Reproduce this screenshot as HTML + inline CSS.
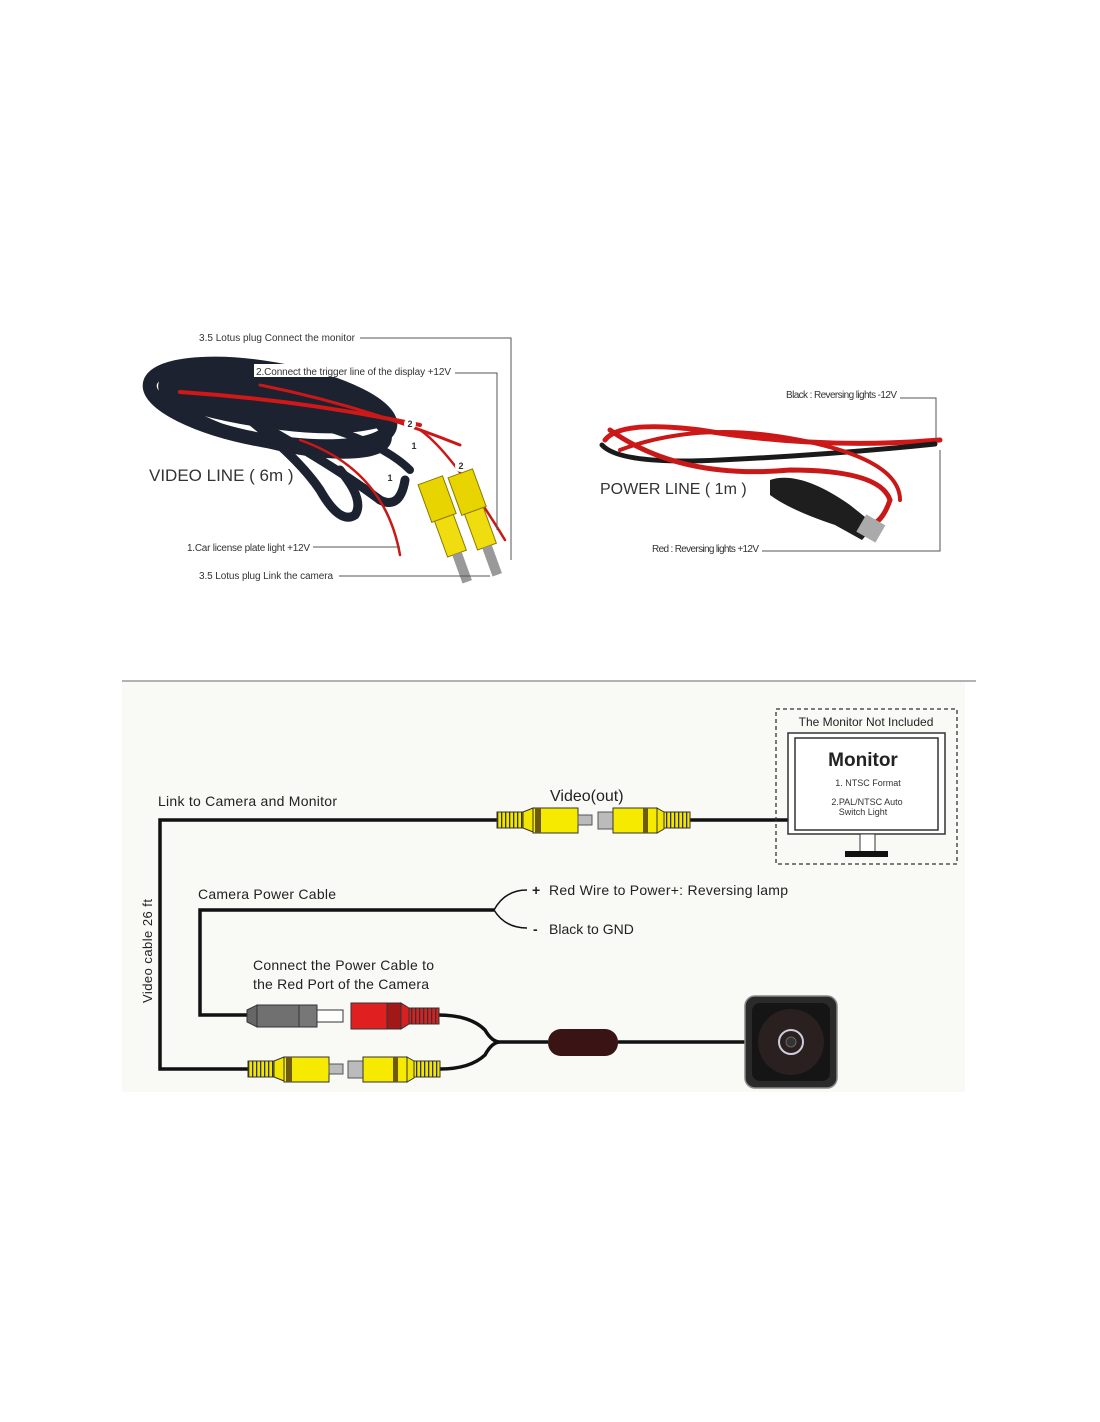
<!DOCTYPE html>
<html><head><meta charset="utf-8"><style>
body{margin:0;background:#fff;}
svg{display:block;font-family:"Liberation Sans",sans-serif;}
</style></head><body>
<svg width="1100" height="1422" viewBox="0 0 1100 1422" xmlns="http://www.w3.org/2000/svg">
<defs>
<pattern id="rib" width="4" height="4" patternUnits="userSpaceOnUse"><rect width="4" height="4" fill="#f2e600"/><rect width="1.3" height="4" fill="#333"/></pattern>
<pattern id="ribr" width="4" height="4" patternUnits="userSpaceOnUse"><rect width="4" height="4" fill="#d82020"/><rect width="1.3" height="4" fill="#333"/></pattern>
<g id="maleY">
<rect x="0" y="-8" width="26" height="16" fill="url(#rib)" stroke="#333" stroke-width="1"/>
<polygon points="26,-8 36,-12 36,12 26,8" fill="#f2e600" stroke="#333"/>
<rect x="36" y="-12" width="45" height="25" fill="#f5ea00" stroke="#333"/>
<rect x="38" y="-12" width="6" height="25" fill="#6b5a10"/>
<rect x="81" y="-5" width="14" height="10" fill="#bbb" stroke="#555"/>
</g>
<g id="femY">
<rect x="0" y="-8" width="15" height="17" fill="#bbb" stroke="#555"/>
<rect x="15" y="-12" width="44" height="25" fill="#f5ea00" stroke="#333"/>
<rect x="45" y="-12" width="5" height="25" fill="#6b5a10"/>
<polygon points="59,-12 66,-8 66,9 59,13" fill="#f2e600" stroke="#333"/>
<rect x="66" y="-8" width="26" height="16" fill="url(#rib)" stroke="#333"/>
</g>
</defs>

<!-- ===== Top left: video line photo ===== -->
<g fill="none" stroke-linecap="round" stroke="#1d2230">
<ellipse cx="270" cy="405" rx="122" ry="36" stroke-width="14" transform="rotate(10 270 405)"/>
<ellipse cx="275" cy="412" rx="115" ry="32" stroke-width="10" transform="rotate(14 275 412)"/>
<path d="M250 420 Q300 460 320 490 Q340 525 355 515 Q365 500 340 470" stroke-width="9"/>
<path d="M270 430 Q340 470 380 500 Q400 510 405 480" stroke-width="9"/>
<path d="M300 420 Q380 440 410 470" stroke-width="8"/>
</g>
<path d="M160 380 Q200 360 260 372 Q340 385 400 420 Q360 440 280 430 Q200 420 160 400Z" fill="#1d2230"/>
<g fill="none" stroke-linecap="round">
<path d="M180 392 Q300 400 420 425" stroke="#d01818" stroke-width="4"/>
<path d="M260 385 Q360 405 460 445" stroke="#c81818" stroke-width="3"/>
<path d="M300 440 Q385 470 400 555" stroke="#c81818" stroke-width="2.5"/>
<path d="M420 430 Q450 450 505 540" stroke="#c81818" stroke-width="2.5"/>
</g>
<g transform="translate(432,485) rotate(70)"><rect x="-5" y="-13" width="40" height="26" fill="#e8d400" stroke="#8a7a00"/><rect x="35" y="-10" width="38" height="20" fill="#f0dd10" stroke="#8a7a00"/><rect x="73" y="-5" width="30" height="10" fill="#999"/></g>
<g transform="translate(462,478) rotate(70)"><rect x="-5" y="-13" width="40" height="26" fill="#e8d400" stroke="#8a7a00"/><rect x="35" y="-10" width="38" height="20" fill="#f0dd10" stroke="#8a7a00"/><rect x="73" y="-5" width="30" height="10" fill="#999"/></g>
<g font-size="9" text-anchor="middle" font-weight="bold" fill="#333">
<circle cx="410" cy="424" r="6" fill="#fff"/><text x="410" y="427">2</text>
<circle cx="414" cy="446" r="6" fill="#fff"/><text x="414" y="449">1</text>
<circle cx="461" cy="466" r="6" fill="#fff"/><text x="461" y="469">2</text>
<circle cx="390" cy="478" r="6" fill="#fff"/><text x="390" y="481">1</text>
</g>
<g stroke="#555" stroke-width="1" fill="none">
<path d="M360 338 H511 V560"/>
<path d="M455 373 H497 V530"/>
<path d="M313 547 H400"/>
<path d="M339 576 H490"/>
</g>
<g font-size="10" fill="#333">
<text x="199" y="341" textLength="156">3.5 Lotus plug  Connect the monitor</text>
<rect x="254" y="364" width="200" height="13" fill="#fff"/>
<text x="256" y="375" textLength="195">2.Connect the trigger line of the display +12V</text>
<text x="187" y="551" textLength="123">1.Car license plate light +12V</text>
<text x="199" y="579" textLength="134">3.5 Lotus plug  Link the camera</text>
</g>
<text x="149" y="481" font-size="17" fill="#333">VIDEO  LINE   ( 6m )</text>

<!-- ===== Top right: power line ===== -->
<g fill="none" stroke-linecap="round">
<path d="M605 440 Q620 420 700 430 Q820 450 940 440" stroke="#d01818" stroke-width="5"/>
<path d="M602 445 Q620 465 720 460 Q830 455 935 444" stroke="#1a1a1a" stroke-width="5"/>
<path d="M610 430 Q680 480 790 470 Q880 470 890 500 Q880 530 860 525" stroke="#c81818" stroke-width="5"/>
<path d="M620 450 Q700 420 800 440 Q900 460 900 500" stroke="#c81818" stroke-width="4"/>
</g>
<path d="M770 480 Q800 470 850 505 L875 525 L862 540 L835 525 Q790 510 770 495Z" fill="#1e1e1e"/>
<rect x="860" y="518" width="22" height="20" fill="#aaa" transform="rotate(30 870 528)"/>
<g stroke="#555" stroke-width="1" fill="none">
<path d="M900 398 H936 V440"/>
<path d="M762 551 H940 V450"/>
</g>
<g font-size="10" fill="#333">
<text x="786" y="398" textLength="111">Black : Reversing lights -12V</text>
<text x="652" y="552" textLength="107">Red : Reversing lights +12V</text>
</g>
<text x="600" y="494" font-size="16" fill="#333">POWER  LINE   ( 1m )</text>

<!-- ===== Bottom diagram ===== -->
<rect x="122" y="682" width="843" height="410" fill="#f9f9f6"/>
<line x1="122" y1="681" x2="976" y2="681" stroke="#999" stroke-width="1.5"/>

<g fill="none" stroke="#111" stroke-width="3.5">
<path d="M497 820 H160 V1069 H248"/>
<path d="M690 820 H790"/>
<path d="M494 910 H200 V1015 H247"/>
<path d="M494 910 Q505 890 527 890 M494 910 Q505 928 527 928" stroke-width="1.5"/>
<path d="M438 1015 Q470 1015 485 1030 Q492 1042 500 1042 M440 1069 Q470 1069 485 1055 Q492 1042 500 1042 H548 M618 1042 H746"/>
</g>
<rect x="548" y="1029" width="70" height="27" rx="13" fill="#3a1414"/>

<use href="#maleY" x="497" y="820"/>
<use href="#femY" x="598" y="820"/>
<use href="#maleY" x="248" y="1069"/>
<use href="#femY" x="348" y="1069"/>

<g transform="translate(247,1016)">
<polygon points="0,-6 10,-11 10,11 0,6" fill="#666" stroke="#333"/>
<rect x="10" y="-11" width="42" height="22" fill="#707070" stroke="#333"/>
<rect x="52" y="-11" width="18" height="22" fill="#777" stroke="#333"/>
<rect x="70" y="-6" width="26" height="12" fill="#fff" stroke="#333"/>
</g>
<g transform="translate(351,1016)">
<rect x="0" y="-13" width="36" height="26" fill="#e02020" stroke="#333"/>
<rect x="36" y="-13" width="14" height="26" fill="#a01818" stroke="#333"/>
<polygon points="50,-13 58,-8 58,8 50,13" fill="#d82020" stroke="#333"/>
<rect x="58" y="-8" width="30" height="16" fill="url(#ribr)" stroke="#333"/>
</g>

<rect x="776" y="709" width="181" height="155" fill="none" stroke="#333" stroke-width="1.3" stroke-dasharray="4,3"/>
<rect x="788" y="733" width="157" height="101" fill="#fff" stroke="#333" stroke-width="1.5"/>
<rect x="795" y="738" width="143" height="92" fill="#fff" stroke="#333" stroke-width="1.5"/>
<rect x="860" y="834" width="15" height="18" fill="#fff" stroke="#333"/>
<rect x="845" y="851" width="43" height="6" fill="#111"/>
<text x="866" y="726" font-size="12" text-anchor="middle" fill="#222">The Monitor Not Included</text>
<text x="863" y="766" font-size="19" font-weight="bold" text-anchor="middle" fill="#222">Monitor</text>
<text x="868" y="786" font-size="9" text-anchor="middle" fill="#333">1. NTSC Format</text>
<text x="867" y="805" font-size="9" text-anchor="middle" fill="#333">2.PAL/NTSC Auto</text>
<text x="863" y="815" font-size="9" text-anchor="middle" fill="#333">Switch Light</text>

<rect x="745" y="996" width="92" height="92" rx="10" fill="#2a2a2a" stroke="#888" stroke-width="1.5"/>
<rect x="752" y="1003" width="78" height="78" rx="8" fill="#151515"/>
<circle cx="791" cy="1042" r="33" fill="#2a2020"/>
<circle cx="791" cy="1042" r="12" fill="none" stroke="#ccd" stroke-width="2"/>
<circle cx="791" cy="1042" r="5" fill="#333" stroke="#666"/>

<g font-size="14" fill="#222">
<text x="158" y="806" textLength="179">Link to Camera and Monitor</text>
<text x="550" y="801" font-size="16">Video(out)</text>
<text x="198" y="899" textLength="138">Camera Power Cable</text>
<text x="532" y="895" font-weight="bold">+</text>
<text x="549" y="895" textLength="239">Red Wire to Power+: Reversing lamp</text>
<text x="533" y="934" font-weight="bold">-</text>
<text x="549" y="934">Black to GND</text>
<text x="253" y="970" textLength="181">Connect the Power Cable to</text>
<text x="253" y="989" textLength="176">the Red Port of the Camera</text>
<text transform="translate(152,1003) rotate(-90)" font-size="13" textLength="104">Video cable 26 ft</text>
</g>
</svg>
</body></html>
